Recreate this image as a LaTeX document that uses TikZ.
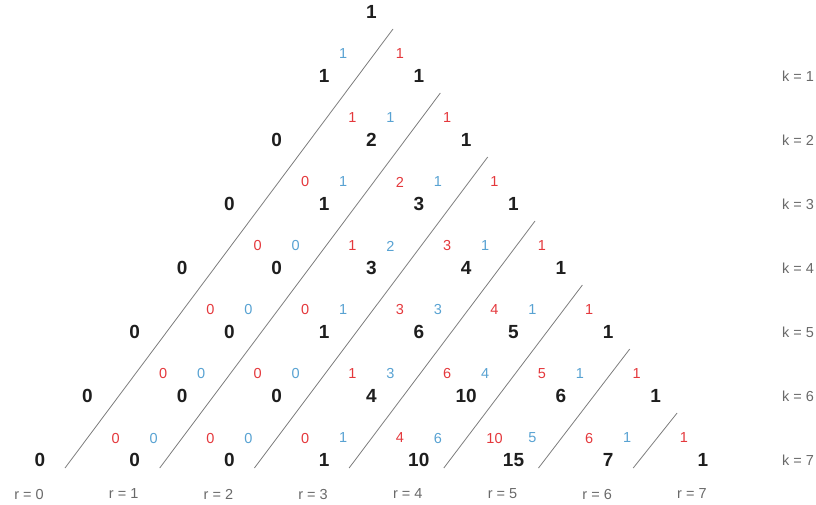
\documentclass[tikz,border=0pt]{standalone}
\usepackage{fontspec}
\setmainfont{Liberation Sans}
\definecolor{numblack}{RGB}{30,30,30}
\definecolor{redn}{RGB}{228,56,60}
\definecolor{bluen}{RGB}{88,162,210}
\definecolor{grayt}{RGB}{105,105,105}
\definecolor{linec}{RGB}{125,125,125}
\newcommand{\colx}[2]{40+47.35*(7-#1)+94.7*#2}
\newcommand{\redat}[3]{\node[rednum] (r#1-#2) at ({\colx{#1}{#2}-19},{12+64*#1-22}) {#3};}
\newcommand{\blueat}[3]{\node[bluenum] (u#1-#2) at ({\colx{#1}{#2}+19},{12+64*#1-22}) {#3};}
\begin{document}
\begin{tikzpicture}[x=1pt,y=-1pt,
  bignum/.style={font=\bfseries\fontsize{19}{19}\selectfont, text=numblack, inner sep=0pt},
  rednum/.style={font=\fontsize{14.5}{14.5}\selectfont, text=redn, inner sep=0pt},
  bluenum/.style={font=\fontsize{14.5}{14.5}\selectfont, text=bluen, inner sep=0pt},
  lbl/.style={font=\fontsize{14.5}{14.5}\selectfont, text=grayt, inner sep=0pt},
  sep/.style={draw=linec, line width=0.8pt}]
\useasboundingbox (0,0) rectangle (816,504);
% bold numbers
\foreach \k/\vals in {0/{1},1/{1,1},2/{0,2,1},3/{0,1,3,1},4/{0,0,3,4,1},5/{0,0,1,6,5,1},6/{0,0,0,4,10,6,1},7/{0,0,0,1,10,15,7,1}}{
  \foreach \v [count=\j from 0] in \vals {
    \node[bignum] (b\k-\j) at ({\colx{\k}{\j}},{12+64*\k}) {\v};
  }
}
% small numbers
\blueat{1}{0}{1} \redat{1}{1}{1}
\redat{2}{1}{1} \blueat{2}{1}{1} \redat{2}{2}{1}
\redat{3}{1}{0} \blueat{3}{1}{1} \redat{3}{2}{2} \blueat{3}{2}{1} \redat{3}{3}{1}
\redat{4}{1}{0} \blueat{4}{1}{0} \redat{4}{2}{1} \blueat{4}{2}{2} \redat{4}{3}{3} \blueat{4}{3}{1} \redat{4}{4}{1}
\redat{5}{1}{0} \blueat{5}{1}{0} \redat{5}{2}{0} \blueat{5}{2}{1} \redat{5}{3}{3} \blueat{5}{3}{3} \redat{5}{4}{4} \blueat{5}{4}{1} \redat{5}{5}{1}
\redat{6}{1}{0} \blueat{6}{1}{0} \redat{6}{2}{0} \blueat{6}{2}{0} \redat{6}{3}{1} \blueat{6}{3}{3} \redat{6}{4}{6} \blueat{6}{4}{4} \redat{6}{5}{5} \blueat{6}{5}{1} \redat{6}{6}{1}
\redat{7}{1}{0} \blueat{7}{1}{0} \redat{7}{2}{0} \blueat{7}{2}{0} \redat{7}{3}{0} \blueat{7}{3}{1} \redat{7}{4}{4} \blueat{7}{4}{6} \redat{7}{5}{10} \blueat{7}{5}{5} \redat{7}{6}{6} \blueat{7}{6}{1} \redat{7}{7}{1}
% separator lines
\foreach \i in {1,...,7}{
  \coordinate (lb\i) at ({65+94.7*(\i-1)},468);
  \coordinate (lt\i) at ({393+47.35*(\i-1)},{29+64*(\i-1)});
  \draw[sep] (lb\i) -- (lt\i);
}
% k labels
\foreach \k in {1,...,7}{
  \node[lbl] (k\k) at (798,{12+64*\k}) {k = \k};
}
% r labels
\foreach \r in {0,...,7}{
  \node[lbl] (rl\r) at ({\colx{7}{\r}-11},494) {r = \r};
}
\end{tikzpicture}
\end{document}
